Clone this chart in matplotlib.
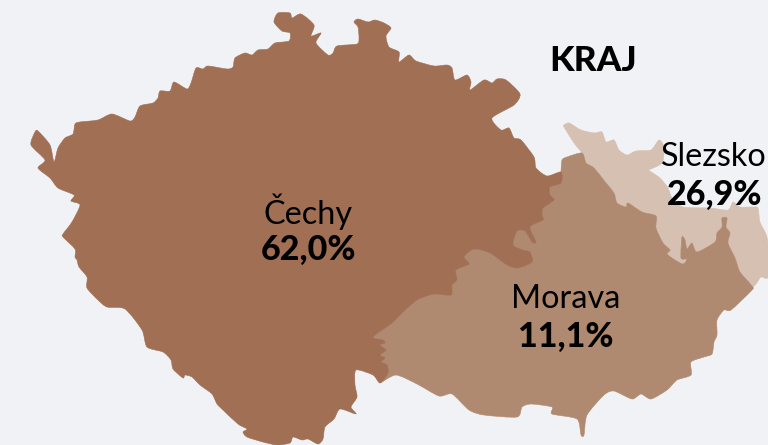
#!/usr/bin/env python3
import numpy as np
import matplotlib
matplotlib.use('Agg')
import matplotlib.pyplot as plt
from matplotlib.patches import PathPatch
from matplotlib.path import Path

REGIONS = ['Čechy', 'Morava', 'Slezsko']
SHARES = ['62,0%', '11,1%', '26,9%']
TITLE = 'KRAJ'

CECHY_NORTH = [
    (54, 162), (58, 148), (65, 138), (73, 134), (75, 124), (80, 122), (98, 120), (112, 114),
    (130, 121), (135, 117), (140, 106), (153, 103), (158, 98), (160, 91), (170, 91), (174, 82),
    (187, 89), (191, 83), (196, 68), (203, 69), (208, 66), (227, 69), (233, 67), (235, 58),
    (245, 53), (252, 55), (258, 50), (268, 49), (275, 43), (289, 41), (290, 33), (282, 31),
    (274, 22), (278, 13), (290, 13), (292, 18), (301, 14), (314, 25), (311, 36), (321, 33),
    (316, 43), (328, 55), (333, 53), (337, 46), (357, 44), (359, 38), (358, 27), (354, 22),
    (358, 19), (368, 22), (375, 20), (384, 23), (391, 28), (386, 36), (389, 47), (399, 52),
    (399, 62), (409, 55), (416, 61), (434, 66), (447, 65), (452, 68), (455, 80), (467, 75),
    (471, 82), (470, 90), (484, 80), (492, 83), (497, 79), (506, 80), (520, 94), (514, 105),
    (492, 118), (501, 130), (509, 128), (514, 138), (521, 140), (534, 157), (536, 168), (547, 176),
]
BORDER_CECHY_MORAVA = [
    (561, 172), (561, 183), (550, 187), (550, 195), (554, 200), (543, 208), (542, 215), (543, 220),
    (530, 227), (536, 242), (532, 242), (525, 231), (517, 231), (513, 245), (523, 250), (530, 252),
    (532, 262), (518, 268), (507, 265), (490, 253), (474, 249), (464, 257), (469, 264), (456, 270),
    (457, 280), (452, 285), (451, 295), (434, 294), (417, 300), (401, 314), (392, 323), (373, 337),
    (383, 340), (385, 343), (380, 345), (386, 350), (380, 355), (385, 358), (381, 362), (387, 365),
    (388, 373), (380, 383),
]
CECHY_SOUTH = [
    (373, 375), (356, 370), (355, 385), (357, 397), (351, 407), (356, 414), (340, 409), (334, 419),
    (325, 427), (323, 439), (318, 444), (308, 439), (302, 440), (293, 437), (290, 443), (277, 445),
    (263, 442), (247, 437), (243, 432), (247, 429), (238, 424), (223, 410), (217, 404), (212, 394),
    (200, 385), (192, 377), (185, 375), (183, 378), (173, 369), (171, 360), (163, 352), (147, 347),
    (142, 330), (125, 309), (107, 307), (98, 300), (87, 288), (87, 277), (79, 267), (77, 260),
    (75, 257), (75, 249), (63, 237), (63, 234), (72, 222), (80, 205), (71, 201), (74, 195),
    (58, 188), (50, 178), (38, 168), (45, 160), (31, 145), (35, 132), (38, 131), (50, 145),
]
MORAVA_TOP = [(562, 160), (567, 157)]
BORDER_MORAVA_SLEZSKO = [
    (582, 153), (586, 163), (594, 168), (606, 183), (614, 193), (617, 203), (626, 207), (628, 203),
    (642, 212), (656, 216), (656, 228), (663, 243), (670, 250), (667, 254), (675, 260), (683, 264),
    (687, 259), (681, 258), (682, 237), (685, 240), (687, 249), (692, 243), (697, 252), (715, 242),
    (717, 233), (722, 227), (722, 218), (727, 218), (726, 227), (730, 233), (728, 243), (735, 258),
    (740, 272), (752, 286),
]
MORAVA_SOUTH = [
    (752, 290), (731, 310), (724, 310), (717, 320), (717, 335), (714, 342), (712, 354), (704, 357),
    (691, 362), (691, 375), (677, 380), (667, 390), (651, 399), (641, 394), (632, 399), (614, 391),
    (604, 395), (587, 415), (584, 435), (581, 435), (577, 419), (552, 414), (552, 407), (531, 404),
    (522, 407), (517, 417), (484, 415), (469, 410), (452, 394), (439, 396), (417, 384), (396, 375),
]
SLEZSKO_OUTER = [
    (756, 284), (761, 277), (768, 277), (768, 244), (766, 234), (760, 222), (758, 208), (753, 207),
    (740, 207), (733, 202), (728, 210), (710, 208), (683, 207), (672, 198), (668, 188), (660, 178),
    (648, 170), (646, 171), (662, 163),
    (664, 147), (659, 140), (651, 150), (636, 151), (627, 155), (619, 150), (614, 140), (606, 142),
    (602, 132), (594, 133), (581, 130), (569, 123), (564, 125), (564, 127), (574, 143),
]

COLOR_BG = '#f1f2f5'
COLOR_CECHY = '#a06f54'
COLOR_MORAVA = '#b08a70'
COLOR_SLEZSKO = '#d6c0b1'


def smooth_path(points, k=0.12):
    # closed Catmull-Rom through the traced points, k below 1/6 keeps the tips sharper
    pts = np.array(points, dtype=float)
    prev_pts = np.roll(pts, 1, axis=0)
    next_pts = np.roll(pts, -1, axis=0)
    next2_pts = np.roll(pts, -2, axis=0)
    verts = [pts[0]]
    codes = [Path.MOVETO]
    for p0, p1, p2, p3 in zip(prev_pts, pts, next_pts, next2_pts):
        verts += [p1 + (p2 - p0) * k, p2 - (p3 - p1) * k, p2]
        codes += [Path.CURVE4, Path.CURVE4, Path.CURVE4]
    return Path(verts, codes)


def add_region(ax, points, color):
    ax.add_patch(PathPatch(smooth_path(points), facecolor=color, edgecolor=color, lw=0.4))


def add_label(ax, x, y, name, share, share_x=None):
    ax.text(x, y, name, ha='center', va='center', fontsize=23.3, color='black')
    ax.text(share_x or x, y + 38, share, ha='center', va='center', fontsize=24.5, fontweight='black', color='black')


plt.rcParams['font.family'] = ['Lato', 'DejaVu Sans']

fig = plt.figure(figsize=(7.68, 4.45), dpi=100, facecolor=COLOR_BG)
ax = fig.add_axes([0, 0, 1, 1])
ax.set_xlim(0, 768)
ax.set_ylim(445, 0)
ax.axis('off')

add_region(ax, SLEZSKO_OUTER + BORDER_MORAVA_SLEZSKO, COLOR_SLEZSKO)
add_region(ax, BORDER_CECHY_MORAVA[::-1] + MORAVA_TOP + BORDER_MORAVA_SLEZSKO + MORAVA_SOUTH, COLOR_MORAVA)
add_region(ax, CECHY_NORTH + BORDER_CECHY_MORAVA + CECHY_SOUTH, COLOR_CECHY)

add_label(ax, 308, 212, REGIONS[0], SHARES[0])
add_label(ax, 566, 299, REGIONS[1], SHARES[1])
add_label(ax, 714, 157, REGIONS[2], SHARES[2], share_x=715)
ax.text(593, 61, TITLE, ha='center', va='center', fontsize=25.5, fontweight='black', color='black')

fig.savefig('out.png', dpi=100, facecolor=COLOR_BG)
